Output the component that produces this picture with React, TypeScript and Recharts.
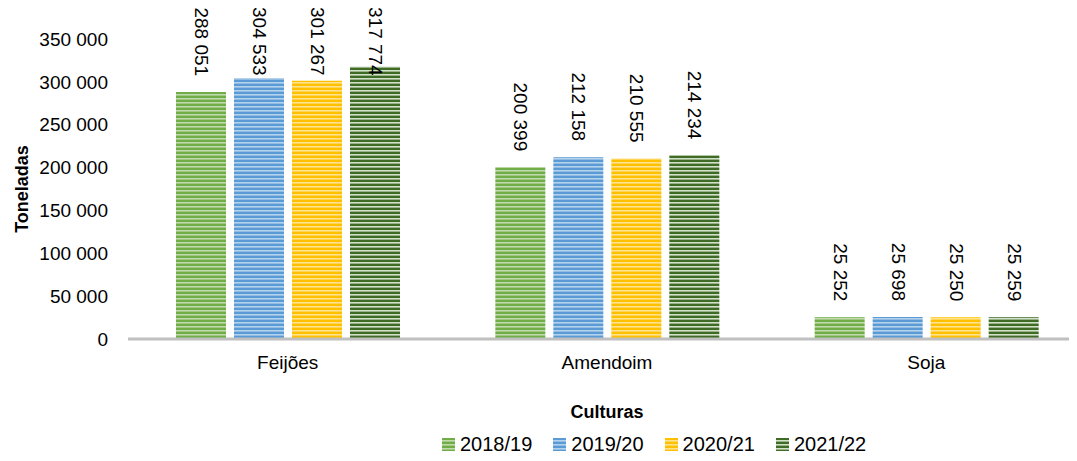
import React from 'react';
import { BarChart, Bar, XAxis, YAxis, LabelList } from 'recharts';

const culturas = ['Feijões', 'Amendoim', 'Soja'];
const s2018 = [288051, 200399, 25252];
const s2019 = [304533, 212158, 25698];
const s2020 = [301267, 210555, 25250];
const s2021 = [317774, 214234, 25259];
const yTicks = [0, 50000, 100000, 150000, 200000, 250000, 300000, 350000];

const series = [
  { key: 'a', name: '2018/19', values: s2018, base: '#70ad47', stripe: '#ffffff', op: 0.55 },
  { key: 'b', name: '2019/20', values: s2019, base: '#5b9bd5', stripe: '#ffffff', op: 0.55 },
  { key: 'c', name: '2020/21', values: s2020, base: '#ffc000', stripe: '#ffffff', op: 0.55 },
  { key: 'd', name: '2021/22', values: s2021, base: '#3f6b27', stripe: '#e2efd9', op: 0.9 },
];

const data = culturas.map((c, i) => {
  const row: any = { cultura: c };
  series.forEach((s) => (row[s.key] = s.values[i]));
  return row;
});

const FONT = '"Liberation Sans", Arial, sans-serif';
const fmt = (v: number) => v.toLocaleString('en-US').replace(/,/g, ' ');

// rotated value label above the bar, pushed down when it would leave the top
const RotLabel = (props: any) => {
  const { x, y, width, value } = props;
  const text = fmt(value);
  const len = text.length * 0.516 * 19;
  const end = y - 16;
  const clamped = end - len < 7;
  const pos = clamped ? 7 : end;
  const cx = x + width / 2;
  return (
    <text
      x={cx}
      y={pos}
      transform={`rotate(90 ${cx} ${pos})`}
      dy={6}
      textAnchor={clamped ? 'start' : 'end'}
      fontSize={19}
      fontFamily={FONT}
      fill="#000"
    >
      {text}
    </text>
  );
};

export default function App() {
  return (
    <div
      style={{
        margin: '-8px 0 -8px -8px',
        width: 1077,
        height: 461,
        overflow: 'hidden',
        position: 'relative',
        background: '#fff',
      }}
    >
      <BarChart
        width={1090}
        height={461}
        data={data}
        margin={{ top: 39, right: 4, bottom: 32, left: 0 }}
        barSize={50}
        barGap={8}
      >
        <defs>
          {series.map((s) => (
            <pattern key={s.key} id={`pat-${s.key}`} width={4} height={4} patternUnits="userSpaceOnUse">
              <rect width={4} height={4} fill={s.base} />
              <rect y={2} width={4} height={1.6} fill={s.stripe} fillOpacity={s.op} />
            </pattern>
          ))}
        </defs>
        <XAxis
          dataKey="cultura"
          height={90}
          tickLine={false}
          tickSize={0}
          tickMargin={17}
          axisLine={{ stroke: '#c0c0c0', strokeWidth: 3 }}
          tick={{ fontSize: 19, fontFamily: FONT, fill: '#000' }}
          label={{
            value: 'Culturas',
            position: 'insideBottom',
            offset: 11,
            style: { fontSize: 18, fontWeight: 'bold', fontFamily: FONT, fill: '#000' },
          }}
        />
        <YAxis
          width={128}
          domain={[0, 350000]}
          ticks={yTicks}
          interval={0}
          axisLine={false}
          tickLine={false}
          tickSize={0}
          tickMargin={20}
          tickFormatter={fmt}
          tick={{ fontSize: 19, fontFamily: FONT, fill: '#000' }}
          label={{
            value: 'Toneladas',
            angle: -90,
            position: 'insideLeft',
            offset: 22,
            style: { textAnchor: 'middle', fontSize: 18, fontWeight: 'bold', fontFamily: FONT, fill: '#000' },
          }}
        />
        {series.map((s) => (
          <Bar key={s.key} dataKey={s.key} name={s.name} fill={`url(#pat-${s.key})`} isAnimationActive={false}>
            <LabelList dataKey={s.key} content={RotLabel} />
          </Bar>
        ))}
      </BarChart>
      <div
        style={{
          position: 'absolute',
          left: 442,
          top: 433,
          display: 'flex',
          alignItems: 'center',
          fontFamily: FONT,
          fontSize: 20,
          color: '#000',
        }}
      >
        {series.map((s) => (
          <div key={s.key} style={{ display: 'flex', alignItems: 'center', marginRight: 21 }}>
            <svg width={13} height={13} style={{ marginRight: 5 }}>
              <rect width={13} height={13} fill={`url(#pat-${s.key})`} />
            </svg>
            <span>{s.name}</span>
          </div>
        ))}
      </div>
    </div>
  );
}
